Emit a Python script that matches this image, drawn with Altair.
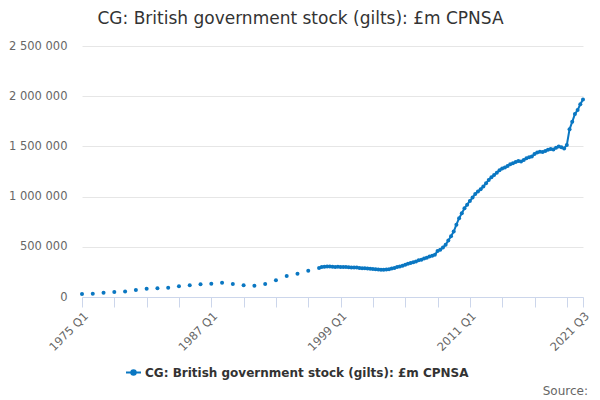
import altair as alt
import pandas as pd

SERIES = "CG: British government stock (gilts): £m CPNSA"
BLUE = "#0a77c2"

# annual readings (Q1 of each year) before the quarterly series starts
annual_years = list(range(1975, 1997))
annual_values = [30000, 33000, 43000, 50000, 56000, 70000, 83000, 86000, 93000, 106000,
                 116000, 126000, 133000, 142000, 129000, 116000, 113000, 129000, 166000,
                 209000, 232000, 262000]

# quarterly readings, 1997 Q1 to 2021 Q3
quarterly_values = [
    288000, 298000, 302000, 303000,   # 1997
    303000, 301000, 300000, 301000,   # 1998
    299000, 298000, 298000, 296000,   # 1999
    295000, 294000, 293000, 290000,   # 2000
    287000, 286000, 284000, 282000,   # 2001
    279000, 276000, 274000, 272000,   # 2002
    271000, 273000, 277000, 283000,   # 2003
    290000, 298000, 305000, 312000,   # 2004
    320000, 330000, 338000, 346000,   # 2005
    354000, 365000, 372000, 384000,   # 2006
    390000, 404000, 410000, 420000,   # 2007
    457000, 470000, 493000, 520000,   # 2008
    563000, 605000, 652000, 720000,   # 2009
    785000, 835000, 884000, 920000,   # 2010
    957000, 990000, 1026000, 1050000,   # 2011
    1073000, 1100000, 1132000, 1165000,   # 2012
    1192000, 1215000, 1238000, 1262000,   # 2013
    1281000, 1290000, 1305000, 1322000,   # 2014
    1331000, 1345000, 1354000, 1350000,   # 2015
    1364000, 1382000, 1391000, 1400000,   # 2016
    1424000, 1438000, 1447000, 1444000,   # 2017
    1453000, 1466000, 1473000, 1470000,   # 2018
    1487000, 1500000, 1492000, 1480000,   # 2019
    1515000, 1670000, 1745000, 1822000,   # 2020
    1862000, 1920000, 1968000,            # 2021
]

x_labels = ["1975 Q1", "1987 Q1", "1999 Q1", "2011 Q1", "2021 Q3"]

# every quarter on the axis, 1975 Q1 .. 2021 Q3
quarters = [f"{y} Q{q}" for y in range(1975, 2022) for q in range(1, 5)][:187]
tick_values = quarters[::12] + [quarters[-1]]

annual = pd.DataFrame({"quarter": [f"{y} Q1" for y in annual_years],
                       "value": annual_values})
quarterly = pd.DataFrame({"quarter": quarters[88:88 + len(quarterly_values)],
                          "value": quarterly_values})
df = pd.concat([annual, quarterly], ignore_index=True)
df["series"] = SERIES
quarterly["series"] = SERIES

label_list = "[" + ",".join(f"'{l}'" for l in x_labels) + "]"

x = alt.X(
    "quarter:O",
    sort=quarters,
    scale=alt.Scale(domain=quarters, type="point", padding=0),
    axis=alt.Axis(
        title=None, values=tick_values, labelAngle=-45,
        labelExpr=f"indexof({label_list}, datum.value) >= 0 ? datum.label : ''",
        labelFont="DejaVu Sans", labelFontSize=11.5, labelColor="#666666",
        domainColor="#ccd6eb", tickColor="#ccd6eb", tickSize=10, labelPadding=3,
        grid=False, labelOverlap=False,
    ),
)
y = alt.Y(
    "value:Q",
    scale=alt.Scale(domain=[0, 2500000], nice=False),
    axis=alt.Axis(
        title=None, values=[0, 500000, 1000000, 1500000, 2000000, 2500000],
        labelExpr="replace(format(datum.value, ','), /,/g, ' ')",
        labelFont="DejaVu Sans", labelFontSize=11.5, labelColor="#666666",
        gridColor="#e6e6e6", domain=False, ticks=False, labelPadding=15,
    ),
)
color = alt.Color(
    "series:N",
    scale=alt.Scale(domain=[SERIES], range=[BLUE]),
    legend=alt.Legend(
        title=None, orient="none", legendX=43, legendY=318, padding=0,
        symbolType="M-1,0H1M-0.3,0A0.3,0.3 0 1,0 0.3,0A0.3,0.3 0 1,0 -0.3,0",
        symbolSize=225, symbolStrokeWidth=2, symbolStrokeColor=BLUE,
        symbolFillColor=BLUE, labelFont="DejaVu Sans", labelFontSize=12,
        labelFontWeight="bold", labelColor="#333333", labelOffset=3, labelLimit=0,
    ),
)

line = alt.Chart(quarterly).mark_line(strokeWidth=2).encode(x=x, y=y, color=color)
points = alt.Chart(df).mark_point(filled=True, size=16, opacity=1).encode(
    x=x, y=y, color=alt.Color("series:N", scale=alt.Scale(domain=[SERIES], range=[BLUE]), legend=None)
)
source = alt.Chart(pd.DataFrame({"t": ["Source:"]})).mark_text(
    align="right", baseline="middle", font="DejaVu Sans", fontSize=12, color="#666666"
).encode(text="t:N", x=alt.value(506), y=alt.value(345))

chart = alt.layer(line, points, source).properties(
    width=501, height=251,
    autosize=alt.AutoSizeParams(type="none"),
    padding={"left": 74, "top": 38, "right": 9, "bottom": 100},
    title=alt.TitleParams(SERIES, font="DejaVu Sans", fontSize=17, fontWeight="normal",
                          color="#333333", anchor="middle", dx=-32, offset=12),
).configure_view(strokeWidth=0)

chart.save("out.html", embed_options={"renderer": "svg", "actions": False})
